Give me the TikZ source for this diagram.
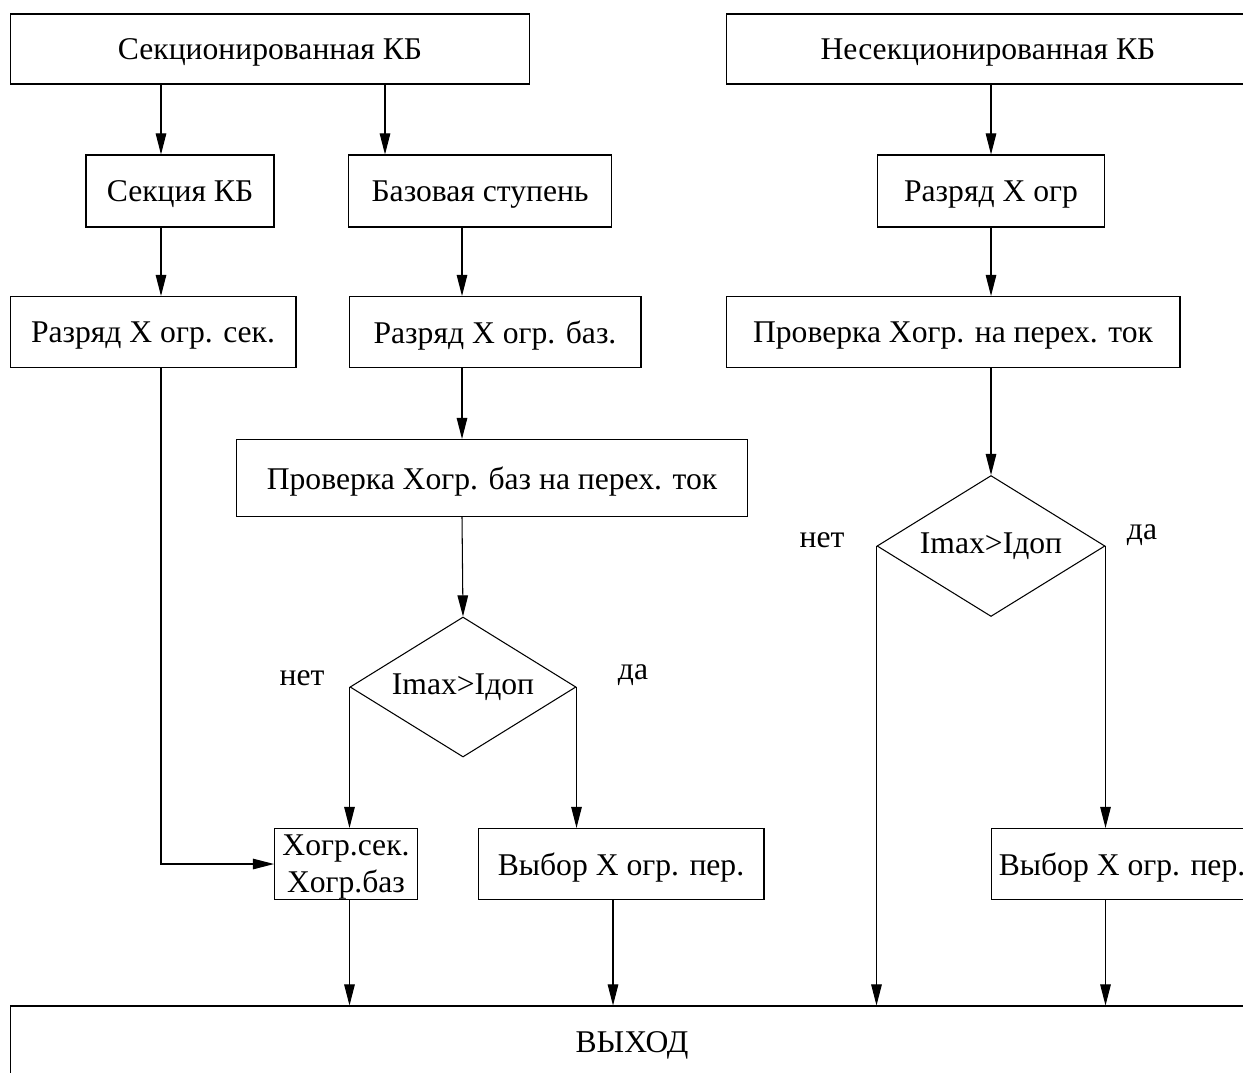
\documentclass[tikz,border=0pt]{standalone}
\usepackage{fontspec}
\setmainfont{Liberation Serif}
\usetikzlibrary{arrows.meta,shapes.geometric}
\tikzset{
  block/.style={draw, line width=0.6pt, inner sep=0pt, text depth=0pt, minimum height=1.42cm},
  decision/.style={draw, diamond, aspect=1.6, inner sep=0pt, line width=0.6pt},
  line/.style={line width=0.6pt, -{Triangle[length=12pt,width=6pt]}},
  tag/.style={inner sep=0pt}
}
\begin{document}
\begin{tikzpicture}[x=0.02cm,y=-0.02cm,font=\fontsize{18}{21}\selectfont]
	\useasboundingbox (0,0) rectangle (1243,1072);
	\clip (0,0) rectangle (1243,1072);
	% column lines
	\coordinate (c1) at (161,0);
	\coordinate (c2) at (385,0);
	\coordinate (c3) at (462,0);
	\coordinate (c4) at (991,0);
	\coordinate (c5) at (613,0);
	% blocks
	\node[block,minimum width=10.4cm,minimum height=1.4cm] (sek) at (270,49) {Секционированная КБ};
	\node[block,minimum width=10.46cm,minimum height=1.4cm] (nesek) at (988,49) {Несекционированная КБ};
	\node[block,minimum width=3.76cm,minimum height=1.44cm] (sekc) at (180,191) {Секция КБ};
	\node[block,minimum width=5.26cm,minimum height=1.44cm] (base) at (480,191) {Базовая ступень};
	\node[block,minimum width=4.54cm,minimum height=1.44cm] (razr) at (991,191) {Разряд X огр};
	\node[block,minimum width=5.72cm] (razrsek) at (153,332) {Разряд X огр. сек.};
	\node[block,minimum width=5.84cm] (razrbaz) at (495,332) {Разряд X огр. баз.};
	\node[block,minimum width=9.08cm] (prov) at (953,332) {Проверка Xогр. на перех. ток};
	\node[block,minimum width=10.24cm,minimum height=1.54cm] (provbaz) at (492,478) {Проверка Xогр. баз на перех. ток};
	\node[decision,minimum width=4.52cm,minimum height=2.8cm] (dbaz) at (463,687) {Imax>Iдоп};
	\node[decision,minimum width=4.56cm,minimum height=2.82cm] (dnes) at (991,546) {Imax>Iдоп};
	\node[block,minimum width=2.86cm,align=center] (xogr) at (346,864) {Xогр.сек.\\Xогр.баз};
	\node[block,minimum width=5.72cm] (vybor1) at (621,864) {Выбор X огр. пер.};
	\node[block,minimum width=5.22cm] (vybor2) at (1122,864) {Выбор X огр. пер.};
	\node[block,minimum width=24.88cm,minimum height=1.44cm] (out) at (632,1042) {ВЫХОД};
	% labels
	\node[tag] (no1) at (302,678) {нет};
	\node[tag] (yes1) at (633,675) {да};
	\node[tag] (no2) at (822,540) {нет};
	\node[tag] (yes2) at (1142,535) {да};
	% connectors
	\draw[line] (sek.south -| c1) -- (sekc.north -| c1);
	\draw[line] (sek.south -| c2) -- (base.north -| c2);
	\draw[line] (nesek.south -| c4) -- (razr.north -| c4);
	\draw[line] (sekc.south -| c1) -- (razrsek.north -| c1);
	\draw[line] (base.south -| c3) -- (razrbaz.north -| c3);
	\draw[line] (razr.south -| c4) -- (prov.north -| c4);
	\draw[line] (razrbaz.south -| c3) -- (provbaz.north -| c3);
	\draw[line] (provbaz.south -| c3) -- (dbaz.north);
	\draw[line] (prov.south -| c4) -- (dnes.north);
	\draw[line] (razrsek.south -| c1) |- (xogr.west);
	\draw[line] (dbaz.west) -- (dbaz.west |- xogr.north);
	\draw[line] (dbaz.east) -- (dbaz.east |- vybor1.north);
	\draw[line] (dnes.west) -- (dnes.west |- out.north);
	\draw[line] (dnes.east) -- (dnes.east |- vybor2.north);
	\draw[line] (xogr.south -| dbaz.west) -- (out.north -| dbaz.west);
	\draw[line] (vybor1.south -| c5) -- (out.north -| c5);
	\draw[line] (vybor2.south -| dnes.east) -- (out.north -| dnes.east);
\end{tikzpicture}
\end{document}
